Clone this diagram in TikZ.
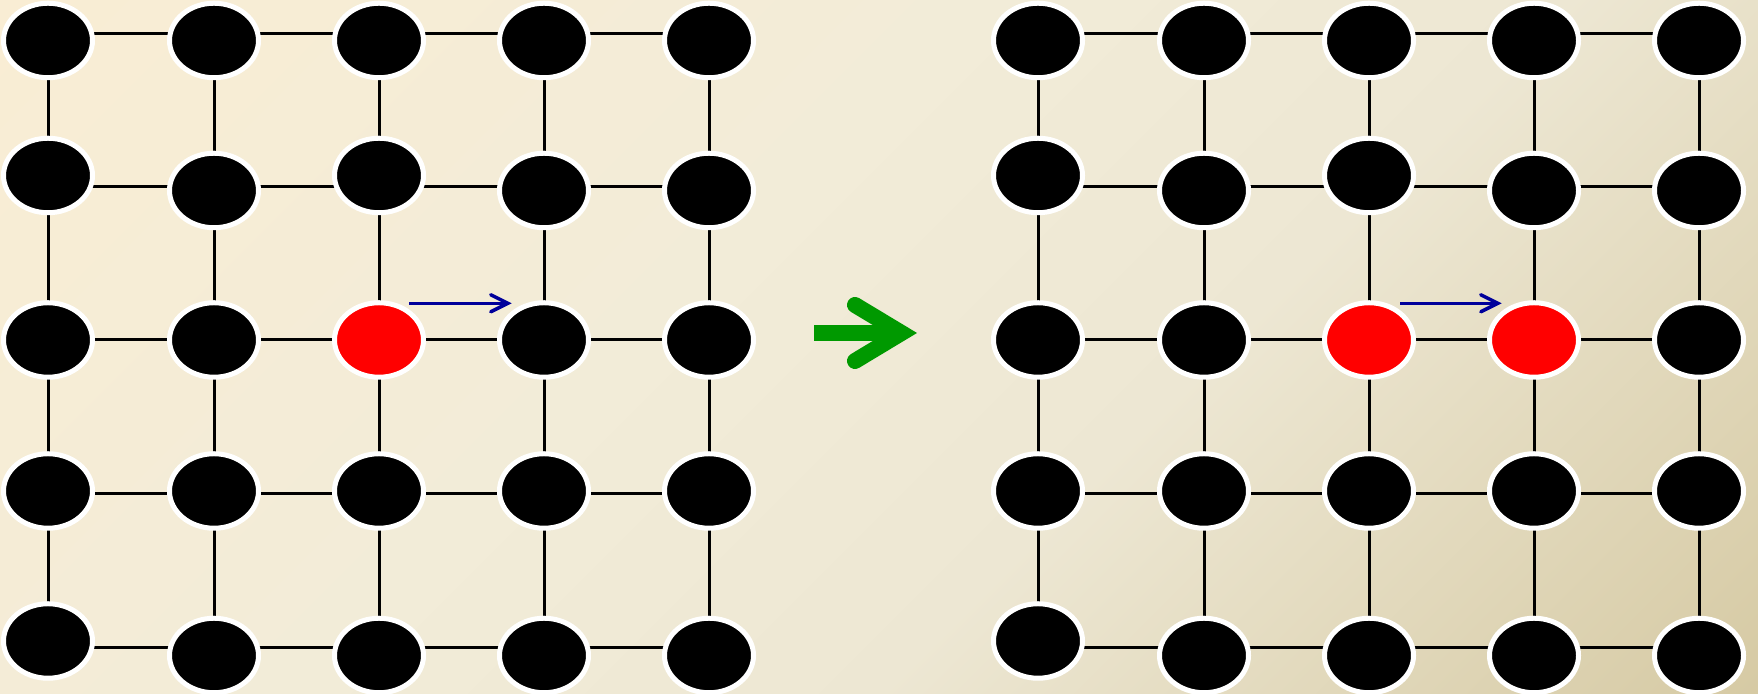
\documentclass[tikz,border=0pt]{standalone}
\usetikzlibrary{shapes.geometric,arrows.meta,backgrounds}

\definecolor{paperA}{RGB}{249,237,212}
\definecolor{paperB}{RGB}{242,236,216}
\definecolor{paperC}{RGB}{237,231,211}
\definecolor{paperD}{RGB}{214,202,164}
\definecolor{hopblue}{RGB}{0,0,155}
\definecolor{stepgreen}{RGB}{0,153,0}
\pgfdeclarehorizontalshading{paper}{100bp}{color(0bp)=(paperA); color(14.6bp)=(paperA); color(43bp)=(paperB); color(60bp)=(paperC); color(85.4bp)=(paperD); color(100bp)=(paperD)}

\begin{document}
\begin{tikzpicture}[
		site/.style={ellipse,fill=black,draw=white,line width=0.05cm,minimum width=0.89cm,minimum height=0.745cm,inner sep=0pt},
		hotL33/.style={fill=red},
		hotR33/.style={fill=red},
		hotR34/.style={fill=red},
		link/.style={black,line width=0.03cm},
		hop/.style={hopblue,line width=0.035cm,-{Straight Barb[length=0.17cm,width=0.17cm,line cap=round]}}
	]
	\useasboundingbox (0,0) rectangle (17.58,6.94);
	
	% lattice sites, left before the move and right after it
	\foreach \g/\dx in {L/0,R/9.9}{
		\foreach \c/\x/\yb/\ye in {1/0.48/5.185/0.53, 2/2.14/5.035/0.385, 3/3.79/5.185/0.385, 4/5.44/5.035/0.385, 5/7.09/5.035/0.385}{
			\foreach \r/\y in {1/6.535, 2/\yb, 3/3.54, 4/2.03, 5/\ye}{
				\node[site,hot\g\r\c/.try] (\g-\r-\c) at (\x+\dx,\y) {};
			}
		}
	}
	
	\begin{scope}[on background layer]
		\shade[shading=paper,shading angle=-45] (0,0) rectangle (17.58,6.94);
		\foreach \g in {L,R}{
			\foreach \r/\ly in {1/6.607, 2/5.07, 3/3.54, 4/2.00, 5/0.46}{
				\foreach \c [evaluate=\c as \n using int(\c+1)] in {1,...,4}{
					\draw[link] (\g-\r-\c |- 0,\ly) -- (\g-\r-\n |- 0,\ly);
					\draw[link] (\g-\c-\r.center) -- (\g-\n-\r.center);
				}
			}
		}
	\end{scope}
	
	\draw[hop] ([shift={(0.30,0.367)}]L-3-3.center) -- ([shift={(-0.323,0.367)}]L-3-4.center);
	\draw[hop] ([shift={(0.31,0.367)}]R-3-3.center) -- ([shift={(-0.323,0.367)}]R-3-4.center);
	
	\draw[stepgreen,line width=0.16cm] (8.14,3.61) -- (8.9,3.61);
	\draw[stepgreen,line width=0.16cm,line cap=round,line join=miter] (8.55,3.89) -- (9.015,3.61) -- (8.55,3.33);
\end{tikzpicture}
\end{document}
